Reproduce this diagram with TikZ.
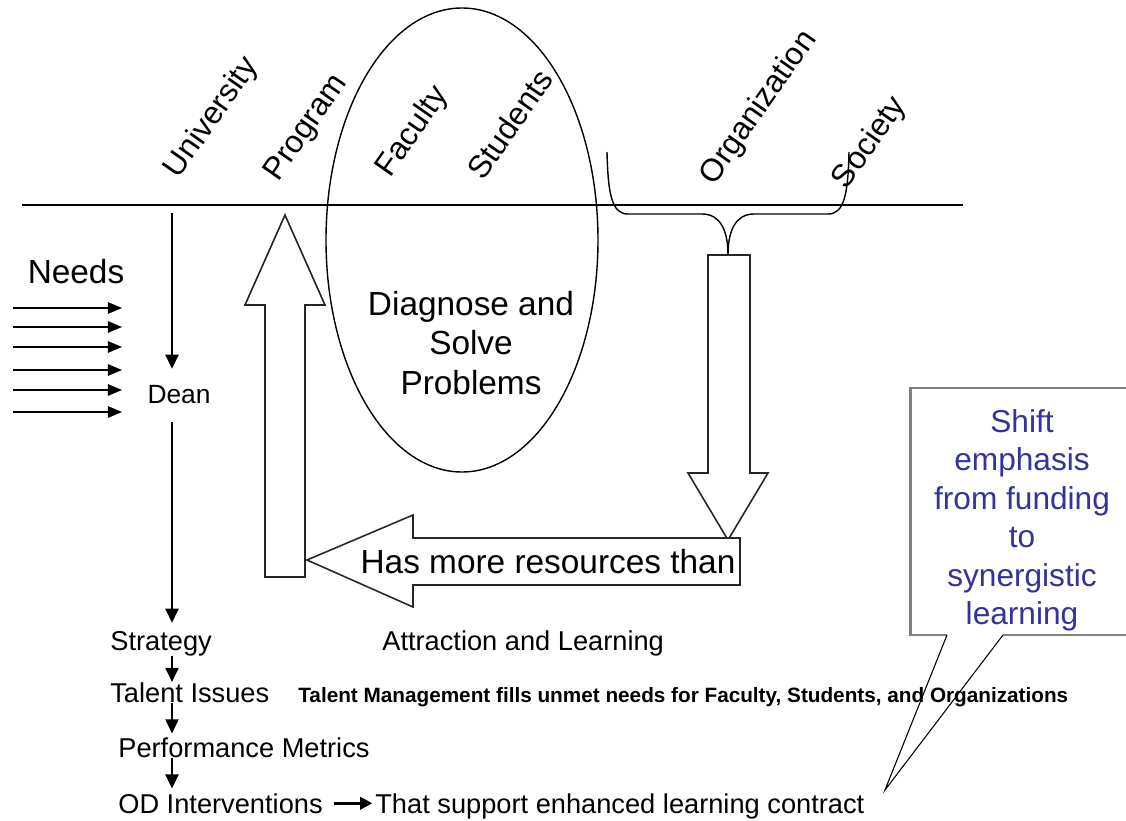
\documentclass[tikz,border=0pt]{standalone}
\usepackage{fontspec}
\setmainfont{Liberation Sans}
\definecolor{calloutblue}{RGB}{51,51,153}
\usetikzlibrary{arrows.meta, calc, positioning}

\begin{document}
\begin{tikzpicture}[x=0.02cm, y=-0.02cm,
		toplabel/.style={rotate=55, inner sep=0pt, font=\fontsize{18}{20}\selectfont},
		bigtext/.style={inner sep=0pt, align=center, font=\fontsize{19}{22.7}\selectfont},
		smalltext/.style={anchor=base west, inner sep=0pt, font=\fontsize{15.5}{18}\selectfont},
		flow/.style={line width=0.9pt, -{Triangle[length=8pt, width=7.5pt]}},
		blockarrow/.style={draw=black!85, line width=0.9pt, fill=white, line join=miter}]
			\useasboundingbox (0,0) rectangle (1126,821);
			\clip (0,0) rectangle (1126,821);
			% Horizon line
			\coordinate (lineL) at (22,205);
			\coordinate (lineR) at (963,205);
			\draw[line width=0.9pt] (lineL) -- (lineR);
			
			% Labels over the line
			\node[toplabel] (university) at (212,118) {University};
			\node[toplabel] (program) at (307,128) {Program};
			\node[toplabel] (faculty) at (413,132) {Faculty};
			\node[toplabel] (students) at (510,124) {Students};
			\node[toplabel] (organization) at (759,108) {Organization};
			\node[toplabel] (society) at (870,143) {Society};
			
			% Ellipse
			\draw[line width=0.8pt] (462,240) ellipse [x radius=136, y radius=232];
			\node[bigtext] (diagnose) at (471,343) {Diagnose and\\Solve\\Problems};
			
			% Brace under Organization and Society
			\draw[line width=0.8pt] (607,152) .. controls (608,195) and (612,214) .. (628,214) -- (702,214)
				.. controls (720,214) and (728,230) .. (728,255) -- (728,277);
			\draw[line width=0.8pt] (728,255) .. controls (728,230) and (736,214) .. (754,214) -- (828,214)
				.. controls (844,214) and (848,195) .. (849,152);
			
			% Block arrows
			\draw[blockarrow] (265,577) -- (265,305) -- (245,305) -- (285,215) -- (325,305) -- (305,305) -- (305,577) -- cycle;
			\draw[blockarrow] (708,255) -- (750,255) -- (750,473) -- (768,473) -- (728,540) -- (688,473) -- (708,473) -- cycle;
			\draw[blockarrow] (307,560) -- (413,515) -- (413,538) -- (740,538) -- (740,585) -- (413,585) -- (413,607) -- cycle;
			\node[bigtext] (resources) at (548,562) {Has more resources than};
			
			% Needs
			\node[bigtext] (needs) at (76,272) {Needs};
			\foreach \y in {308,327,347,370,390,412}
			{
				\draw[line width=0.8pt, -{Triangle[length=8pt, width=6.5pt]}] (13,\y) -- (122,\y);
			}
			
			% Chain down the left side
			\coordinate (spine) at (172,0);
			\coordinate (deantop) at (172,213);
			\node[inner sep=0pt, font=\fontsize{15}{18}\selectfont] (dean) at (179,395) {Dean};
			\node[smalltext] (strategy) at (110,650) {Strategy};
			\node[smalltext] (talent) at (110,702) {Talent Issues};
			\node[smalltext] (metrics) at (118,757) {Performance Metrics};
			\node[smalltext] (od) at (118,813) {OD Interventions};
			\node[smalltext] (support) at (375,813) {That support enhanced learning contract};
			\node[smalltext] (attraction) at (382,650) {Attraction and Learning};
			\node[anchor=base west, inner sep=0pt, font=\bfseries\fontsize{11.8}{13}\selectfont] (tmfill) at (298,702)
				{Talent Management fills unmet needs for Faculty, Students, and Organizations};
			
			\draw[flow, shorten >=9.5pt] (deantop) -- (deantop |- dean.north);
			\draw[flow, shorten <=10pt, shorten >=4.5pt] (spine |- dean.south) -- (spine |- strategy.north);
			\draw[flow] (spine |- strategy.south) -- (spine |- talent.north);
			\draw[flow, shorten >=2pt] (spine |- talent.south) -- (spine |- metrics.north);
			\draw[flow, shorten >=2.5pt] (spine |- metrics.south) -- (spine |- od.north);
			\draw[line width=1.7pt, -{Triangle[length=7pt, width=7pt]}, shorten <=6pt, shorten >=1.5pt] (od.east) -- (od.east -| support.west);
			
			% Callout
			\coordinate (tip) at (885,790);
			\draw[fill=white, draw=gray, line width=1.7pt] (947,635) -- (910,635) -- (910,388) -- (1140,388) -- (1140,635) -- (1003,635);
			\draw[line width=0.6pt] (947,635) -- (tip) -- (1003,635);
			\node[anchor=north, inner sep=0pt, align=center, text=calloutblue, font=\fontsize{18}{21.9}\selectfont] (shift) at (1022,409)
				{Shift\\emphasis\\from funding\\to\\synergistic\\learning};
			
\end{tikzpicture}
\end{document}
